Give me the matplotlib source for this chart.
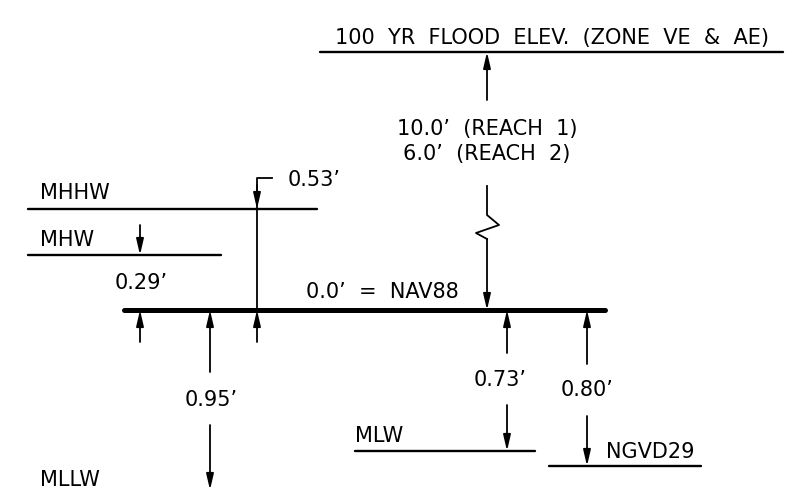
import matplotlib.pyplot as plt

# -------------------------------
# DATA
# -------------------------------
datum_names = ["MHHW", "MHW", "NAV88", "MLW", "MLLW", "NGVD29"]
datum_offsets = ["0.53’", "0.29’", "0.0’", "0.73’", "0.95’", "0.80’"]
flood_label = "100  YR  FLOOD  ELEV.  (ZONE  VE  &  AE)"
reach_labels = ["10.0’  (REACH  1)", "6.0’  (REACH  2)"]

# -------------------------------
# FIGURE (drawing units = pixels, y down)
# -------------------------------
fig = plt.figure(figsize=(7.89, 4.90), dpi=100)
ax = fig.add_axes([0, 0, 1, 1])
ax.set_xlim(0, 789)
ax.set_ylim(490, 0)
ax.axis("off")

FS = 15
LW = 1.7
AW = 1.3


def level(x0, x1, y, lw=LW):
    ax.plot([x0, x1], [y, y], color="black", lw=lw, solid_capstyle="round")


def arrow(x, y_from, y_to):
    ax.annotate("", xy=(x, y_to), xytext=(x, y_from),
                arrowprops=dict(arrowstyle="-|>,head_length=0.95,head_width=0.22",
                                color="black", lw=AW, shrinkA=0, shrinkB=0))


def label(x, y, s, ha="left"):
    ax.text(x, y, s, ha=ha, va="center", fontsize=FS, color="black")


# flood elevation
level(320, 783, 52)
label(552, 38, flood_label, ha="center")
arrow(487, 100, 52)
label(487, 129, reach_labels[0], ha="center")
label(487, 154, reach_labels[1], ha="center")
# break line down to NAV88
ax.plot([487, 487, 499, 476, 487], [186, 215, 225, 233, 239], color="black", lw=AW)
arrow(487, 239, 310)

# NAV88 reference line
level(124, 605, 310, lw=3.6)
label(382, 292, datum_offsets[2] + "  =  " + datum_names[2], ha="center")

# MHHW
level(28, 317, 209)
label(40, 193, datum_names[0])
ax.plot([272, 257, 257, 257], [178, 178, 185, 310], color="black", lw=AW)
arrow(257, 185, 209)
arrow(257, 342, 310)
label(288, 180, datum_offsets[0])

# MHW
level(28, 221, 255)
label(40, 240, datum_names[1])
arrow(140, 225, 255)
arrow(140, 342, 310)
label(141, 283, datum_offsets[1], ha="center")

# MLLW
arrow(210, 372, 310)
arrow(210, 425, 490)
label(211, 400, datum_offsets[4], ha="center")
label(40, 480, datum_names[4])

# MLW
level(355, 535, 451)
label(355, 436, datum_names[3])
arrow(507, 353, 310)
arrow(507, 405, 451)
label(500, 380, datum_offsets[3], ha="center")

# NGVD29
level(549, 701, 466)
label(606, 452, datum_names[5])
arrow(587, 364, 310)
arrow(587, 416, 466)
label(587, 390, datum_offsets[5], ha="center")

fig.savefig("out.png", dpi=100, facecolor="white")
